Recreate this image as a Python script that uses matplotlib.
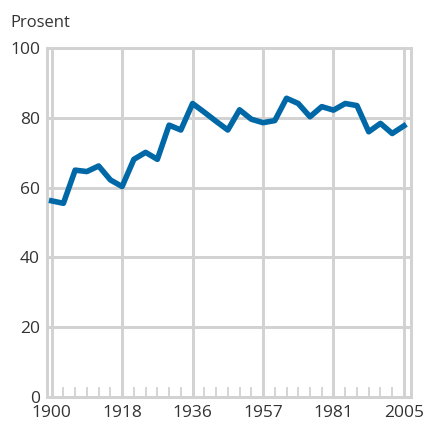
import matplotlib.pyplot as plt
import numpy as np

plt.rcParams['font.family'] = ['Open Sans', 'DejaVu Sans']

# valgdeltaking, prosent (31 punkt, likt fordelt)
prosent = [56.2, 55.5, 65.0, 64.6, 66.2, 62.2, 60.3, 68.1, 70.1, 68.1,
           77.9, 76.5, 84.1, 81.6, 79.0, 76.5, 82.3, 79.6, 78.6, 79.2,
           85.6, 84.1, 80.3, 83.2, 82.2, 84.1, 83.5, 76.0, 78.4, 75.5, 77.7]
tick_pos = [0, 6, 12, 18, 24, 30]
tick_lab = ["1900", "1918", "1936", "1957", "1981", "2005"]
y_ticks = [0, 20, 40, 60, 80, 100]

grå = "#d2d2d2"
blå = "#0068a6"
tekst = "#333333"

fig = plt.figure(figsize=(4.27, 4.23), dpi=100)
ax = fig.add_axes([0.110, 0.0615, 0.8525, 0.825])

x = np.arange(len(prosent))
ax.plot(x, prosent, color=blå, lw=4.0, solid_joinstyle='round', zorder=3)

ax.set_xlim(-0.4, 30.6)
ax.set_ylim(0, 100)
ax.set_xticks(tick_pos)
ax.set_xticklabels(tick_lab)
ax.set_xticks(x, minor=True)
ax.set_yticks(y_ticks)

ax.grid(True, which='major', color=grå, lw=2.1)
ax.tick_params(which='major', length=0, labelsize=12.5, labelcolor=tekst)
ax.tick_params(axis='x', which='major', pad=6)
ax.tick_params(axis='y', which='major', pad=5)
ax.tick_params(axis='x', which='minor', direction='in', length=7, width=1.3, color=grå)
ax.tick_params(axis='y', which='minor', length=0)
for s in ax.spines.values():
    s.set_color(grå)
    s.set_linewidth(2.1)

fig.text(0.025, 0.965, "Prosent", fontsize=12, color=tekst, va='top')

fig.savefig("out.png", dpi=100)
